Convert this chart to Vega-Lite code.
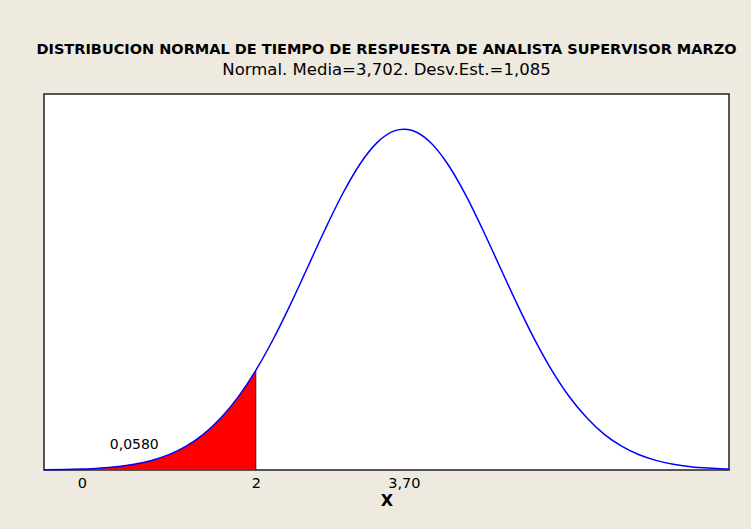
{
  "$schema": "https://vega.github.io/schema/vega-lite/v6.json",
  "autosize": {"type": "none"},
  "width": 685,
  "height": 376,
  "padding": {"left": 44, "top": 94, "right": 22, "bottom": 59},
  "background": "#EEEAE0",
  "title": {
    "text": "DISTRIBUCION NORMAL DE TIEMPO DE RESPUESTA DE ANALISTA SUPERVISOR MARZO",
    "subtitle": "Normal. Media=3,702. Desv.Est.=1,085",
    "anchor": "middle",
    "font": "DejaVu Sans",
    "fontSize": 14.5,
    "fontWeight": "bold",
    "color": "#000000",
    "subtitleFont": "DejaVu Sans",
    "subtitleFontSize": 16.5,
    "subtitleColor": "#000000",
    "subtitlePadding": 4,
    "offset": 15
  },
  "config": {
    "view": {"fill": "#FFFFFF", "stroke": "#222222", "strokeWidth": 1.5}
  },
  "datasets": {
    "curve": [
      {"x": -0.435, "density": 0.000256},
      {"x": -0.4, "density": 0.00029},
      {"x": -0.2, "density": 0.000571},
      {"x": 0.0, "density": 0.001091},
      {"x": 0.2, "density": 0.002011},
      {"x": 0.4, "density": 0.003585},
      {"x": 0.6, "density": 0.006175},
      {"x": 0.8, "density": 0.010283},
      {"x": 1.0, "density": 0.016553},
      {"x": 1.2, "density": 0.025748},
      {"x": 1.4, "density": 0.038722},
      {"x": 1.6, "density": 0.056283},
      {"x": 1.8, "density": 0.0791},
      {"x": 2.0, "density": 0.10743},
      {"x": 2.2, "density": 0.14104},
      {"x": 2.4, "density": 0.17897},
      {"x": 2.6, "density": 0.21953},
      {"x": 2.8, "density": 0.26027},
      {"x": 3.0, "density": 0.29825},
      {"x": 3.2, "density": 0.33037},
      {"x": 3.4, "density": 0.35372},
      {"x": 3.6, "density": 0.36607},
      {"x": 3.702, "density": 0.36769},
      {"x": 3.8, "density": 0.36619},
      {"x": 4.0, "density": 0.35408},
      {"x": 4.2, "density": 0.33093},
      {"x": 4.4, "density": 0.29896},
      {"x": 4.6, "density": 0.26106},
      {"x": 4.8, "density": 0.22035},
      {"x": 5.0, "density": 0.17977},
      {"x": 5.2, "density": 0.14176},
      {"x": 5.4, "density": 0.10806},
      {"x": 5.6, "density": 0.079623},
      {"x": 5.8, "density": 0.05697},
      {"x": 6.0, "density": 0.039023},
      {"x": 6.2, "density": 0.025969},
      {"x": 6.4, "density": 0.016701},
      {"x": 6.6, "density": 0.010386},
      {"x": 6.8, "density": 0.006241},
      {"x": 7.0, "density": 0.003624},
      {"x": 7.2, "density": 0.002034},
      {"x": 7.4, "density": 0.001105},
      {"x": 7.44, "density": 0.000973}
    ],
    "cut": [{"x": 2.0, "lo": 0, "hi": 0.10743}],
    "label": [{"x": 0.603, "y": 0.027, "text": "0,0580"}]
  },
  "layer": [
    {
      "data": {"name": "curve"},
      "transform": [{"filter": "datum.x <= 2"}],
      "mark": {"type": "area", "color": "#FF0000", "interpolate": "monotone"},
      "encoding": {
        "x": {
          "field": "x", "type": "quantitative",
          "scale": {"domain": [-0.435, 7.44], "nice": false, "zero": false},
          "axis": {
            "values": [0, 2, 3.702],
            "labelExpr": "datum.value == 0 ? '0' : datum.value == 2 ? '2' : '3,70'",
            "ticks": false, "domain": false, "grid": false,
            "labelFont": "DejaVu Sans", "labelFontSize": 14.5, "labelColor": "#000000",
            "labelPadding": 6,
            "title": "X", "titleFont": "DejaVu Sans", "titleFontSize": 16, "titleFontWeight": "bold",
            "titleColor": "#000000", "titlePadding": 3
          }
        },
        "y": {
          "field": "density", "type": "quantitative",
          "scale": {"domain": [0, 0.4056], "nice": false},
          "axis": null
        }
      }
    },
    {
      "data": {"name": "cut"},
      "mark": {"type": "rule", "color": "#222222", "strokeWidth": 1},
      "encoding": {
        "x": {"field": "x", "type": "quantitative"},
        "y": {"field": "lo", "type": "quantitative"},
        "y2": {"field": "hi"}
      }
    },
    {
      "data": {"name": "curve"},
      "mark": {"type": "line", "color": "#0000FF", "strokeWidth": 1.5, "interpolate": "monotone"},
      "encoding": {
        "x": {"field": "x", "type": "quantitative"},
        "y": {"field": "density", "type": "quantitative"}
      }
    },
    {
      "data": {"name": "label"},
      "mark": {"type": "text", "font": "DejaVu Sans", "fontSize": 14, "color": "#000000"},
      "encoding": {
        "x": {"field": "x", "type": "quantitative"},
        "y": {"field": "y", "type": "quantitative"},
        "text": {"field": "text"}
      }
    }
  ]
}
